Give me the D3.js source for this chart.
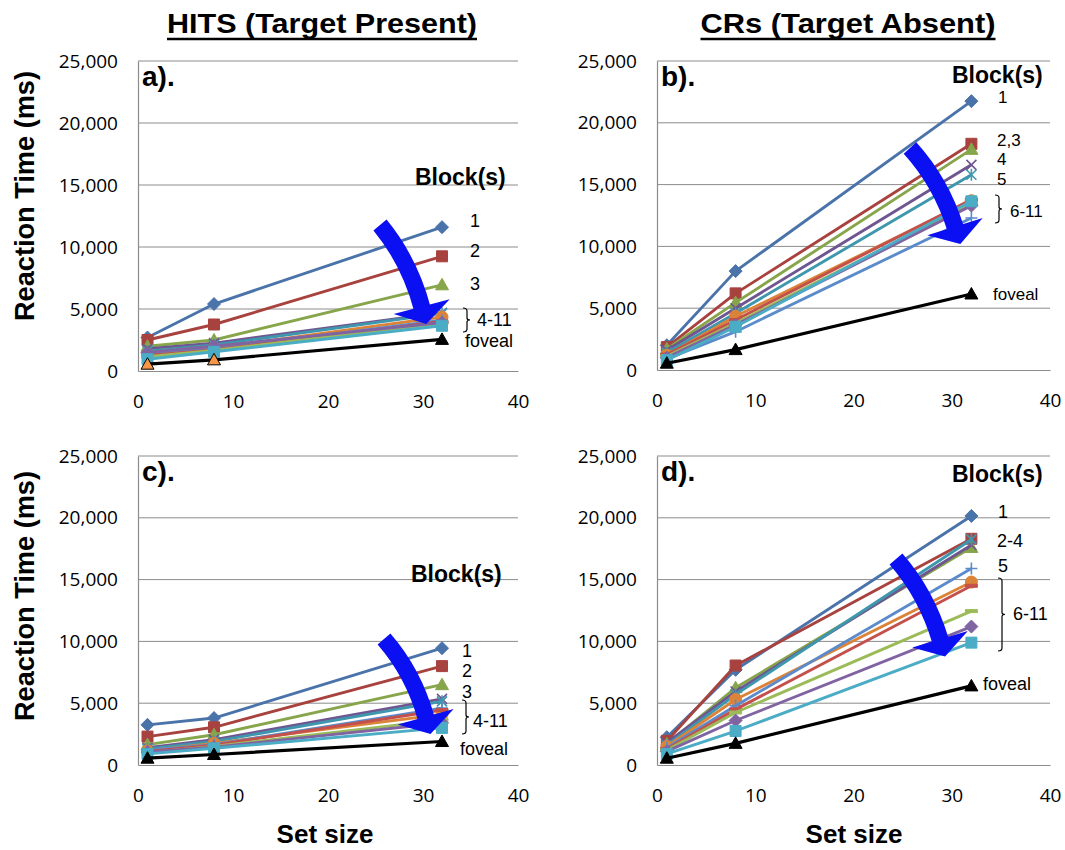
<!DOCTYPE html>
<html><head><meta charset="utf-8">
<script src="https://cdn.jsdelivr.net/npm/d3@7"></script>
<style>body{margin:0;background:#fff}svg{display:block}</style>
</head><body>
<script>
// ---------------- DATA ----------------
const setSizes = [1, 8, 32];
const seriesNames = ["1","2","3","4","5","6","7","8","9","10","11","foveal"];
const xTicks = [0, 10, 20, 30, 40];
const yTicks = [0, 5000, 10000, 15000, 20000, 25000];
const columnTitles = ["HITS (Target Present)", "CRs (Target Absent)"];
const panelLetters = ["a).", "b).", "c).", "d)."];

// Panel a: hits, blocks 1..11 then foveal (RT at set size 1, 8, 32)
const hitsTop = [
  [2700, 5400, 11600],
  [2500, 3750, 9250],
  [2000, 2500, 6950],
  [1800, 2250, 4700],
  [1600, 2100, 4650],
  [1300, 1850, 4350],
  [1400, 1750, 4100],
  [1250, 1700, 4000],
  [1150, 1650, 3850],
  [1500, 2000, 3900],
  [950, 1550, 3650],
  [550, 900, 2550]
];
// Panel b: correct rejections
const crsTop = [
  [2000, 8000, 21750],
  [1850, 6200, 18300],
  [1700, 5450, 17850],
  [1600, 5000, 16600],
  [1400, 4600, 15800],
  [1200, 4350, 13700],
  [900, 3100, 12300],
  [1250, 4050, 13800],
  [1100, 3800, 13400],
  [1000, 3650, 13300],
  [800, 3500, 13650],
  [550, 1650, 6150]
];
// Panel c: hits
const hitsBottom = [
  [3250, 3800, 9450],
  [2300, 3050, 8000],
  [1650, 2450, 6500],
  [1400, 2050, 5350],
  [1300, 1900, 5150],
  [1150, 1750, 4100],
  [1200, 1650, 4600],
  [1100, 1600, 4450],
  [1000, 1500, 3650],
  [1050, 1450, 3400],
  [900, 1350, 3000],
  [550, 850, 1900]
];
// Panel d: correct rejections
const crsBottom = [
  [2250, 7700, 20150],
  [1950, 8050, 18300],
  [1700, 6250, 17600],
  [1800, 5950, 17800],
  [1600, 5700, 18250],
  [1500, 5300, 14800],
  [1400, 4800, 15900],
  [1300, 4500, 14500],
  [1200, 4250, 12450],
  [1100, 3600, 11200],
  [900, 2750, 9900],
  [550, 1750, 6400]
];
// Right-side annotations per panel
const labelsA = ["1", "2", "3", "4-11", "foveal"];
const labelsB = ["1", "2,3", "4", "5", "6-11", "foveal"];
const labelsC = ["1", "2", "3", "4-11", "foveal"];
const labelsD = ["1", "2-4", "5", "6-11", "foveal"];

// ---------------- STYLE ----------------
const colors = ["#4A73AA","#A8423F","#87A54A","#6F5691","#3F97AE","#DB8439",
                "#5B8BCB","#C4504C","#9BBB59","#8064A2","#4BACC6","#000000"];
const markers = ["diamond","square","triangle","x","star","circle","plus","dash","dash","diamond","square","triangle"];
const gridColor = "#8C8C8C";
const arrowColor = "#0A10F2";

const W = 1065, H = 850;
const svg = d3.select("body").append("svg").attr("width", W).attr("height", H);

const panels = [
  {data: hitsTop,    letter: panelLetters[0], box: {x0:138, x1:518, y0:61, y1:371},
   block: {x:415, y:185}, labels: labelsA, labelSize: 18,
   labelPos: [[470,227],[470,257],[470,290],[477,326],[465,347]],
   brace: {x:463, y0:308, y1:332},
   arrow: {S:[380,225], E:[421.7,306.7], bend:10},
   fovealFill: ["#F79646","#F79646","#000000"]},
  {data: crsTop,     letter: panelLetters[1], box: {x0:657, x1:1050, y0:61, y1:370},
   block: {x:952, y:83}, labels: labelsB, labelSize: 17,
   labelPos: [[998,103],[997,146],[997,165],[997,185],[1010,217],[993,300]],
   brace: {x:995, y0:195, y1:223},
   arrow: {S:[910,148], E:[955,226.7], bend:10}},
  {data: hitsBottom, letter: panelLetters[2], box: {x0:138, x1:518, y0:456, y1:765},
   block: {x:411, y:582}, labels: labelsC, labelSize: 18,
   labelPos: [[462,657],[462,677],[462,698],[473,727],[460,755]],
   brace: {x:462, y0:700, y1:734},
   arrow: {S:[384,639], E:[425.7,716.7], bend:10}},
  {data: crsBottom,  letter: panelLetters[3], box: {x0:657, x1:1050, y0:456, y1:765},
   block: {x:952, y:482}, labels: labelsD, labelSize: 18,
   labelPos: [[998,518],[997,547],[998,572],[1013,620],[983,690]],
   brace: {x:998, y0:578, y1:651},
   arrow: {S:[896,559], E:[940,639.3], bend:10}}
];

function markerPath(type) {
  switch (type) {
    case "diamond": return "M0,-6.5L6.5,0L0,6.5L-6.5,0Z";
    case "square": return "M-5.5,-5.5H5.5V5.5H-5.5Z";
    case "triangle": return "M0,-6.5L6.5,5L-6.5,5Z";
    case "circle": return "M6,0A6,6 0 1,1 -6,0A6,6 0 1,1 6,0Z";
    case "x": return "M-5,-5L5,5M5,-5L-5,5";
    case "star": return "M-5,-5L5,5M5,-5L-5,5M0,-6V6";
    case "plus": return "M-6,0H6M0,-6V6";
    case "dash": return "M-6,-1.5H6V1.5H-6Z";
  }
}
const strokeOnly = new Set(["x","star","plus"]);

panels.forEach((p, pi) => {
  const b = p.box;
  const x = d3.scaleLinear().domain([0, 40]).range([b.x0, b.x1]);
  const y = d3.scaleLinear().domain([0, 25000]).range([b.y1, b.y0]);
  const g = svg.append("g");

  // gridlines
  g.selectAll(".grid").data(yTicks.filter(t => t > 0)).join("line")
    .attr("x1", b.x0).attr("x2", b.x1)
    .attr("y1", d => y(d)).attr("y2", d => y(d))
    .attr("stroke", gridColor).attr("stroke-width", 1);

  // axes
  const yAxis = d3.axisLeft(y).tickValues(yTicks).tickFormat(d3.format(",")).tickSize(0).tickPadding(20);
  const xAxis = d3.axisBottom(x).tickValues(xTicks).tickFormat(d3.format("d")).tickSize(0).tickPadding(24);
  const ya = g.append("g").attr("transform", `translate(${b.x0},0)`).call(yAxis);
  const xa = g.append("g").attr("transform", `translate(0,${b.y1})`).call(xAxis);
  [ya, xa].forEach(a => {
    a.select(".domain").attr("stroke", gridColor).attr("stroke-width", 1.2);
    a.selectAll("text").attr("font-family", "'Open Sans', sans-serif").attr("font-size", 19).attr("fill", "#000");
  });

  // series lines
  const line = d3.line().x((d, i) => x(setSizes[i])).y(d => y(d));
  p.data.forEach((vals, si) => {
    const sg = g.append("g");
    sg.append("path").attr("d", line(vals)).attr("fill", "none")
      .attr("stroke", colors[si]).attr("stroke-width", si === 11 ? 3.2 : 2.9)
      .attr("stroke-linejoin", "round");
    vals.forEach((v, i) => {
      const m = markers[si];
      const mp = sg.append("path").attr("d", markerPath(m))
        .attr("transform", `translate(${x(setSizes[i])},${y(v)})`);
      if (strokeOnly.has(m)) {
        mp.attr("fill", "none").attr("stroke", colors[si]).attr("stroke-width", 1.6);
      } else {
        const fill = (si === 11 && p.fovealFill) ? p.fovealFill[i] : colors[si];
        mp.attr("fill", fill).attr("stroke", si === 11 ? "#000" : colors[si]).attr("stroke-width", 1);
      }
    });
  });

  // panel letter
  g.append("text").attr("x", b.x0 + 4).attr("y", b.y0 + 25).text(p.letter)
    .attr("font-family", "'Liberation Sans', Arial, sans-serif").attr("font-weight", "bold")
    .attr("font-size", 28);
  // Block(s)
  g.append("text").attr("x", p.block.x).attr("y", p.block.y).text("Block(s)")
    .attr("font-family", "'Liberation Sans', Arial, sans-serif").attr("font-weight", "bold")
    .attr("font-size", 23);
  // labels
  p.labels.forEach((t, i) => {
    g.append("text").attr("x", p.labelPos[i][0]).attr("y", p.labelPos[i][1]).text(t)
      .attr("font-family", "'Liberation Sans', Arial, sans-serif").attr("font-size", p.labelSize);
  });
  // brace
  const br = p.brace, xm = br.x + 4, ym = (br.y0 + br.y1) / 2;
  g.append("path")
    .attr("d", `M${br.x},${br.y0}Q${xm},${br.y0} ${xm},${br.y0+3}L${xm},${ym-2}Q${xm},${ym} ${xm+3},${ym}Q${xm},${ym} ${xm},${ym+2}L${xm},${br.y1-3}Q${xm},${br.y1} ${br.x},${br.y1}`)
    .attr("fill", "none").attr("stroke", "#000").attr("stroke-width", 1.2);

  // curved arrow
  const A = p.arrow, S = A.S, E = A.E;
  const dx = E[0]-S[0], dy = E[1]-S[1], L = Math.hypot(dx, dy);
  const nx = dy / L, ny = -dx / L;
  const C = [(S[0]+E[0])/2 + nx*A.bend, (S[1]+E[1])/2 + ny*A.bend];
  let tx = E[0]-C[0], ty = E[1]-C[1]; const tl = Math.hypot(tx, ty); tx /= tl; ty /= tl;
  g.append("path").attr("d", `M${S[0]},${S[1]}Q${C[0]},${C[1]} ${E[0]+tx*2},${E[1]+ty*2}`)
    .attr("fill", "none").attr("stroke", arrowColor).attr("stroke-width", 17);
  const hw = 29, hl = 18, px = -ty, py = tx;
  g.append("path").attr("d",
    `M${E[0]+px*hw},${E[1]+py*hw}L${E[0]+tx*hl},${E[1]+ty*hl}L${E[0]-px*hw},${E[1]-py*hw}Z`)
    .attr("fill", arrowColor);
});

// column titles
const titleData = [{t: columnTitles[0], cx: 322, w: 310}, {t: columnTitles[1], cx: 848, w: 295}];
titleData.forEach(d => {
  svg.append("text").attr("x", d.cx).attr("y", 33).attr("text-anchor", "middle").text(d.t)
    .attr("font-family", "'Liberation Sans', Arial, sans-serif").attr("font-weight", "bold")
    .attr("font-size", 28).attr("textLength", d.w).attr("lengthAdjust", "spacingAndGlyphs");
  svg.append("line").attr("x1", d.cx - d.w/2).attr("x2", d.cx + d.w/2).attr("y1", 39).attr("y2", 39)
    .attr("stroke", "#000").attr("stroke-width", 2.5);
});

// y axis titles
[196, 596].forEach(cy => {
  svg.append("text").attr("transform", `translate(34,${cy}) rotate(-90)`).attr("text-anchor", "middle")
    .text("Reaction Time (ms)")
    .attr("font-family", "'Liberation Sans', Arial, sans-serif").attr("font-weight", "bold")
    .attr("font-size", 27).attr("textLength", 250).attr("lengthAdjust", "spacingAndGlyphs");
});
// x axis titles
[325, 854].forEach(cx => {
  svg.append("text").attr("x", cx).attr("y", 843).attr("text-anchor", "middle").text("Set size")
    .attr("font-family", "'Liberation Sans', Arial, sans-serif").attr("font-weight", "bold")
    .attr("font-size", 26);
});
</script>
</body></html>
